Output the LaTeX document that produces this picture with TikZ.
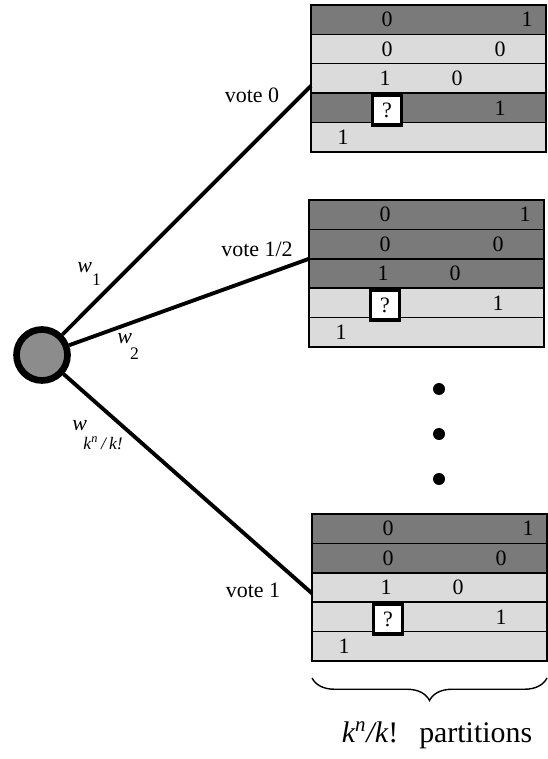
\documentclass[tikz,border=0pt]{standalone}
\usepackage{fontspec}
\setmainfont{Liberation Serif}
\usetikzlibrary{positioning, calc, decorations.pathreplacing}

\definecolor{bandgray}{gray}{0.48}
\definecolor{palegray}{gray}{0.86}
\definecolor{knotgray}{gray}{0.55}

\tikzset{
  band/.style={draw, line width=0.8pt, minimum width=4.7cm, minimum height=0.588cm, inner sep=0pt, outer sep=0pt},
  digit/.style={font=\fontsize{12.5}{15}\selectfont, inner sep=0pt},
  qbox/.style={draw, line width=2.2pt, fill=white, minimum width=0.58cm, minimum height=0.6cm, inner sep=0pt, font=\fontsize{12.5}{15}\selectfont},
  edge/.style={line width=2.2pt},
  dot/.style={circle, fill=black, minimum size=0.24cm, inner sep=0pt},
  lbl/.style={font=\fontsize{12.5}{15}\selectfont, inner sep=0pt}
}

% one partition: name, left x, top y, tones of the five rows
\newcommand{\partition}[4]{%
  \begin{scope}[shift={(#2,#3)}]
    \foreach \tone [count=\row] in {#4}
      \node[band, fill=\tone] (#1r\row) at (117.5, {(\row-0.5)*29.4}) {};
    \node[digit] (#1a) at (76,14.7) {0};
    \node[digit] (#1b) at (216,14.7) {1};
    \node[digit] (#1c) at (76,44.1) {0};
    \node[digit] (#1d) at (189,44.1) {0};
    \node[digit] (#1e) at (74,73.5) {1};
    \node[digit] (#1f) at (146,73.5) {0};
    \node[qbox] (#1q) at (76,105) {?};
    \node[digit] (#1g) at (189,102.9) {1};
    \node[digit] (#1h) at (32,132.3) {1};
  \end{scope}}

\begin{document}
\begin{tikzpicture}[x=0.02cm, y=-0.02cm]
    \useasboundingbox (0,0) rectangle (547,759);

    % the three partitions
    \partition{t1}{311}{5}{bandgray,palegray,palegray,bandgray,palegray}
    \partition{t2}{309}{200}{bandgray,bandgray,bandgray,palegray,palegray}
    \partition{t3}{312}{514}{bandgray,bandgray,palegray,palegray,palegray}

    % voter and its weighted links
    \node[circle, draw, line width=3.8pt, fill=knotgray, minimum size=1.02cm, inner sep=0pt] (voter) at (42,355) {};
    \draw[edge] (voter) -- ($(t1r3.west)!0.5!(t1r3.south west)$);
    \draw[edge] (voter) -- (t2r2.south west);
    \draw[edge] (voter) -- ($(t3r3.west)!0.4!(t3r3.south west)$);

    \node[lbl] (vote0) at (252,95) {vote 0};
    \node[lbl] (votehalf) at (257,249) {vote 1/2};
    \node[lbl] (vote1) at (253,590) {vote 1};

    \node[lbl, anchor=base west] (w1) at (77,273) {\itshape w\upshape\raisebox{-7pt}{\fontsize{10}{12}\selectfont 1}};
    \node[lbl, anchor=base west] (w2) at (117,344) {\itshape w\upshape\kern-1pt\raisebox{-9pt}{\fontsize{10}{12}\selectfont 2}};
    \node[lbl, anchor=base west] (wk) at (72,430) {\itshape w\kern-2pt\raisebox{-11pt}{\fontsize{10}{12}\selectfont k\textsuperscript{n}\,/\,k!}};

    % dots between the partitions
    \foreach \y in {389,434,479}
      \node[dot] (dot\y) at (439,\y) {};

    % brace under the last partition
    \draw[line width=0.8pt, decorate, decoration={brace, mirror, amplitude=0.45cm}]
      ($(t3r5.south west)+(0,17)$) -- ($(t3r5.south east)+(0,17)$);
    \node[font=\fontsize{17}{20}\selectfont, inner sep=0pt] (count) at (437,735)
      {\textit{k\textsuperscript{n}/k}!\hspace{0.7em}partitions};
\end{tikzpicture}
\end{document}
